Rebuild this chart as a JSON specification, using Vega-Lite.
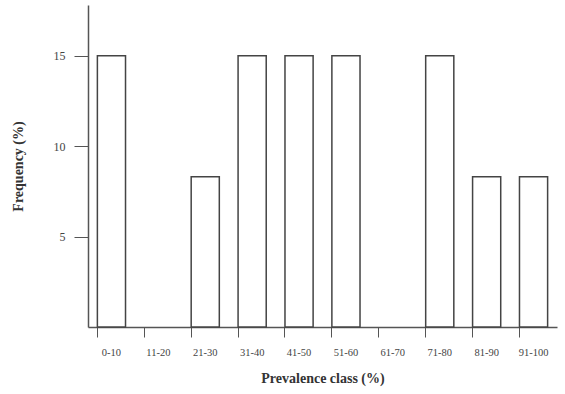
{
  "$schema": "https://vega.github.io/schema/vega-lite/v6.json",
  "width": 469,
  "height": 322,
  "autosize": {"type": "none"},
  "padding": {"left": 88, "top": 5, "right": 8, "bottom": 67},
  "background": "white",
  "data": {"values": [
    {"cls": "0-10", "freq": 15},
    {"cls": "11-20", "freq": 0},
    {"cls": "21-30", "freq": 8.3},
    {"cls": "31-40", "freq": 15},
    {"cls": "41-50", "freq": 15},
    {"cls": "51-60", "freq": 15},
    {"cls": "61-70", "freq": 0},
    {"cls": "71-80", "freq": 15},
    {"cls": "81-90", "freq": 8.3},
    {"cls": "91-100", "freq": 8.3}
  ]},
  "config": {"view": {"stroke": null}, "font": "Liberation Serif"},
  "mark": {"type": "bar", "fill": "white", "stroke": "#444", "strokeWidth": 1.5},
  "encoding": {
    "strokeOpacity": {"condition": {"test": "datum.freq == 0", "value": 0}, "value": 1},
    "x": {
      "field": "cls", "type": "nominal", "sort": null,
      "scale": {"paddingInner": 0.4, "paddingOuter": 0.2},
      "axis": {
        "title": "Prevalence class (%)", "titleFont": "Liberation Serif", "titleFontSize": 14, "titleFontWeight": "bold", "titleColor": "#333", "titlePadding": 14,
        "labelAngle": 0, "labelFont": "Liberation Serif", "labelFontSize": 10.5, "labelColor": "#444", "labelPadding": 10,
        "bandPosition": 0, "tickSize": 10, "tickColor": "#555", "domainColor": "#555", "domainWidth": 1.5, "grid": false
      }
    },
    "y": {
      "field": "freq", "type": "quantitative",
      "scale": {"domain": [0, 17.8], "nice": false},
      "axis": {
        "title": "Frequency (%)", "titleFont": "Liberation Serif", "titleFontSize": 14, "titleFontWeight": "bold", "titleColor": "#333", "titlePadding": 28,
        "values": [5, 10, 15], "labelFont": "Liberation Serif", "labelFontSize": 12, "labelColor": "#444", "labelPadding": 9,
        "tickSize": 14, "tickColor": "#555", "domainColor": "#555", "domainWidth": 1.5, "grid": false
      }
    }
  }
}
